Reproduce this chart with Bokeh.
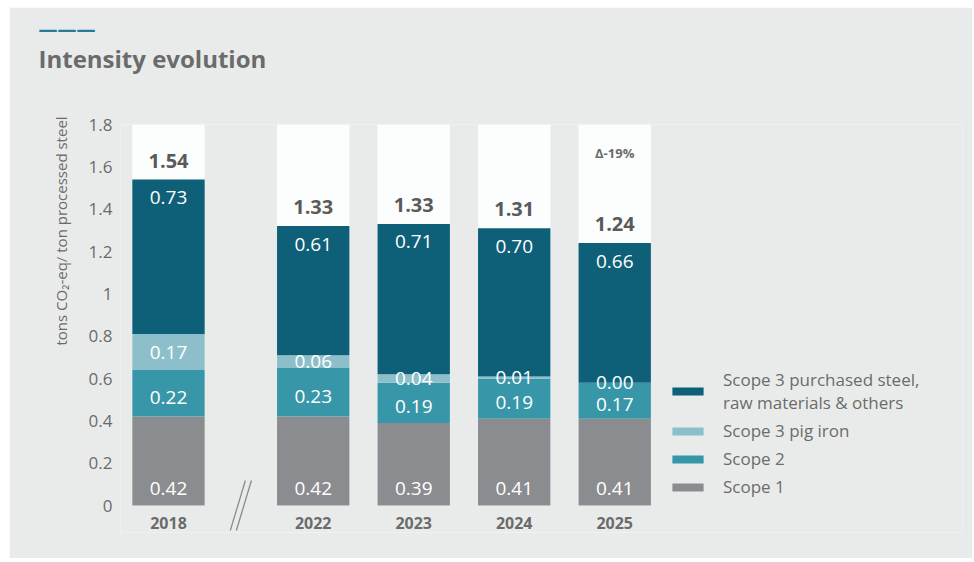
from bokeh.plotting import figure
from bokeh.models import (ColumnDataSource, FixedTicker, NumeralTickFormatter, Legend,
                          LegendItem, Label, Arrow, Range1d, Title)
from bokeh.core.properties import value
from bokeh.embed import file_html
from bokeh.resources import INLINE

# ---- data ----
years = ["2018", "2022", "2023", "2024", "2025"]
scope1 = [0.42, 0.42, 0.39, 0.41, 0.41]
scope2 = [0.22, 0.23, 0.19, 0.19, 0.17]
scope3_pig = [0.17, 0.06, 0.04, 0.01, 0.00]
scope3_steel = [0.73, 0.61, 0.71, 0.70, 0.66]
totals = [1.54, 1.33, 1.33, 1.31, 1.24]
y_ticks = [0, 0.2, 0.4, 0.6, 0.8, 1.0, 1.2, 1.4, 1.6, 1.8]
delta_label = "Δ-19%"
legend_labels = ["Scope 3 purchased steel,\nraw materials & others", "Scope 3 pig iron", "Scope 2", "Scope 1"]

# ---- layout ----
xpos = [0, 1.44, 2.44, 3.44, 4.44]
BAR_W = 0.72
Y_MAX = 1.8
FONT = "Open Sans"
TXT = "#6b6b6b"
BG = "#e9ebea"
C_S3 = "#0e5f78"
C_PIG = "#8cbfca"
C_S2 = "#3797a9"
C_S1 = "#8b8c90"

W, H = 963, 551
ML, MR, MT, MB = 111, 10, 117, 26
px_per_unit_x = 100.5
px_per_unit_y = 211.67
x0 = -48 / px_per_unit_x
x1 = x0 + (W - ML - MR) / px_per_unit_x
y0 = -27 / px_per_unit_y   # room below zero for the axis-break mark

p = figure(width=W, height=H, output_backend="svg", toolbar_location=None,
           x_range=Range1d(x0, x1), y_range=Range1d(y0, Y_MAX),
           min_border_left=ML, min_border_right=MR, min_border_top=MT, min_border_bottom=MB,
           margin=(7, 0, 0, 9))
p.background_fill_color = BG
p.border_fill_color = BG
p.outline_line_color = None
p.grid.visible = False

src = ColumnDataSource(dict(x=xpos, s1=scope1, s2=scope2, pig=scope3_pig, s3=scope3_steel,
                            tot=totals, top=[Y_MAX] * len(xpos)))

# white column backgrounds
p.vbar(x="x", top="top", width=BAR_W, source=src, fill_color="#fcfdfd", line_color=None)

rs = p.vbar_stack(["s1", "s2", "pig", "s3"], x="x", width=BAR_W, source=src,
                  fill_color=[C_S1, C_S2, C_PIG, C_S3], line_color=None)

# label positions derived from data
b1 = scope1
b2 = [a + b for a, b in zip(b1, scope2)]
b3 = [a + b for a, b in zip(b2, scope3_pig)]
b4 = [a + b for a, b in zip(b3, scope3_steel)]
fmt = lambda v: f"{v:.2f}"
lab = ColumnDataSource(dict(
    x=xpos,
    y1=[0] * len(xpos), t1=[fmt(v) for v in scope1],
    y2=[(a + b) / 2 for a, b in zip(b1, b2)], t2=[fmt(v) for v in scope2],
    y3=[(a + b) / 2 for a, b in zip(b2, b3)], t3=[fmt(v) for v in scope3_pig],
    y4=b4, t4=[fmt(v) for v in scope3_steel],
    tt=[fmt(v) for v in totals],
))
common = dict(x="x", source=lab, text_font=value(FONT), text_align="center", text_baseline="middle")
p.text(y="y1", text="t1", y_offset=-17, text_color="white", text_font_size="19px", **common)
p.text(y="y2", text="t2", y_offset=4, text_color="white", text_font_size="19px", **common)
p.text(y="y3", text="t3", text_color="white", text_font_size="19px", **common)
p.text(y="y4", text="t4", y_offset=18, text_color="white", text_font_size="19px", **common)
p.text(y="y4", text="tt", y_offset=-19, text_color="#5a5a5a", text_font_size="20px",
       text_font_style="bold", **common)

p.add_layout(Label(x=xpos[-1], y=1.667, text=delta_label, text_align="center", text_baseline="middle",
                   text_font=FONT, text_font_size="13px", text_font_style="bold", text_color=TXT))

# axes
p.yaxis.ticker = FixedTicker(ticks=y_ticks)
p.yaxis.formatter = NumeralTickFormatter(format="0.[0]")
p.xaxis.ticker = FixedTicker(ticks=xpos)
p.xaxis.major_label_overrides = {x: y for x, y in zip(xpos, years)}
for ax in (p.xaxis, p.yaxis):
    ax.axis_line_color = None
    ax.major_tick_line_color = None
    ax.minor_tick_line_color = None
    ax.major_label_text_font = FONT
    ax.major_label_text_color = TXT
p.yaxis.major_label_text_font_size = "17px"
p.yaxis.major_label_standoff = 2
p.xaxis.major_label_text_font_size = "16px"
p.xaxis.major_label_text_font_style = "bold"
p.xaxis.major_label_standoff = -22

# y axis title (rotated, in left panel)
p.add_layout(Title(text="tons CO₂-eq/ ton processed steel", align="left", offset=187,
                   vertical_align="middle", standoff=27, text_font=FONT, text_font_size="15px",
                   text_font_style="normal", text_color=TXT), "left")

# chart title and accent line (above panel, stacked outward from the frame)
p.add_layout(Title(text=" ", align="left", offset=0, vertical_align="top", standoff=32,
                   text_font=FONT, text_font_size="10px", text_color=BG), "above")
p.add_layout(Title(text="Intensity evolution", align="left", offset=-82, vertical_align="top",
                   standoff=0, text_font=FONT, text_font_size="24px", text_font_style="bold",
                   text_color=TXT), "above")
p.add_layout(Title(text="———", align="left", offset=-82, vertical_align="bottom", standoff=0,
                   text_font=FONT, text_font_size="19px", text_font_style="bold",
                   text_color="#2a7b9b"), "above")

# axis break marker
for dx in (0.0, 0.06):
    p.add_layout(Arrow(end=None, x_start=0.615 + dx, y_start=-0.118, x_end=0.765 + dx, y_end=0.118,
                       line_color="#8a8a8a", line_width=1.3))

# legend
items = [LegendItem(label=l, renderers=[r]) for l, r in zip(legend_labels, rs[::-1])]
leg = Legend(items=items, location=(548, 34), padding=0, margin=0, spacing=5,
             glyph_width=39, glyph_height=10, label_standoff=16, label_height=20,
             label_text_font=FONT, label_text_font_size="17px", label_text_color=TXT,
             label_text_line_height=1.35,
             background_fill_alpha=0, border_line_color=None)
p.add_layout(leg)

open("out.html", "w").write(file_html(p, INLINE))
